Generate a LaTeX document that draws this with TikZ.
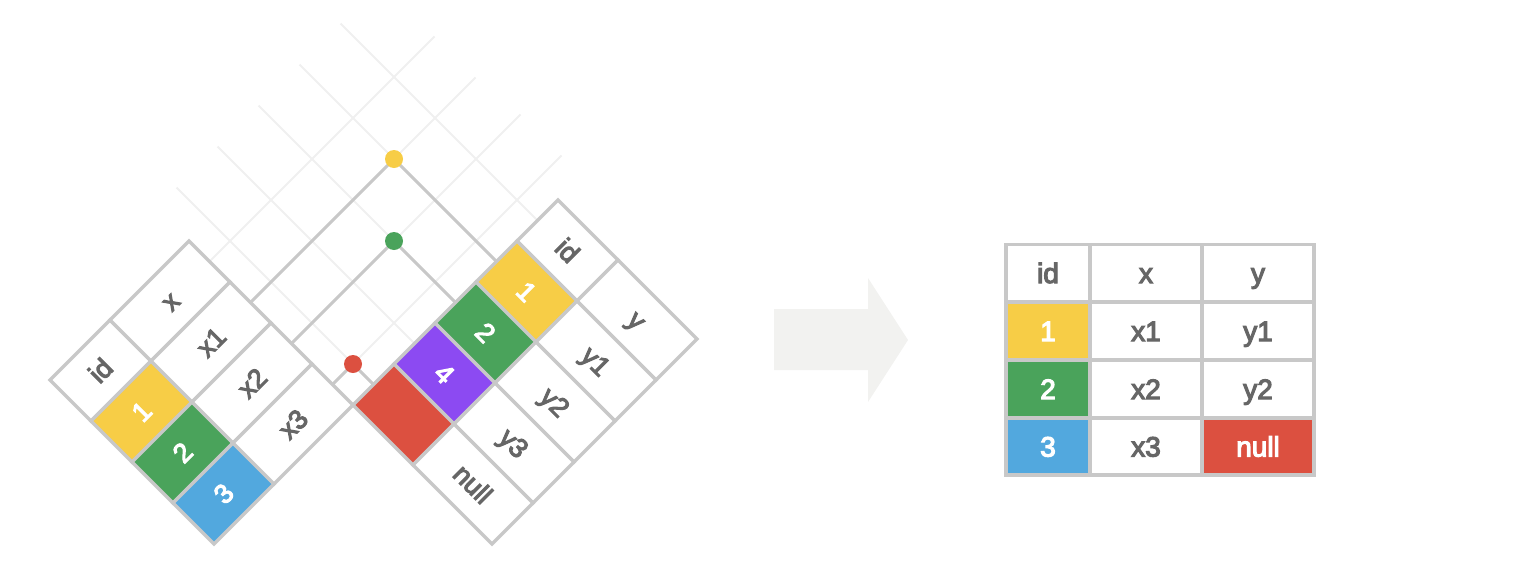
\documentclass[tikz,border=0pt]{standalone}
\usepackage{fontspec}
\setmainfont{Liberation Sans}
\newfontfamily\medfont{Liberation Sans}[FakeBold=4]
\definecolor{yel}{HTML}{F7CD46}
\definecolor{grn}{HTML}{4AA35B}
\definecolor{blu}{HTML}{52A8DE}
\definecolor{pur}{HTML}{8C4AF2}
\definecolor{nullred}{HTML}{DC5040}
\definecolor{bord}{HTML}{C8C8C8}
\definecolor{faint}{HTML}{F0F0F0}
\definecolor{txt}{HTML}{666666}
\definecolor{arrowfill}{HTML}{F2F2F0}
\newcommand\LP[2]{({50+41*(#1)+(#2)},{380+41*(#1)-(#2)})}
\newcommand\RP[2]{({558-41*(#1)+(#2)},{200+41*(#1)+(#2)})}
\tikzset{
  cellb/.style={draw=bord, line width=3.5pt, line join=miter},
  tfont/.style={font=\medfont\fontsize{27}{27}\selectfont, inner sep=0pt, text height=19pt, text depth=0pt},
  gfont/.style={font=\medfont\fontsize{28}{28}\selectfont, inner sep=0pt, text height=20pt, text depth=0pt},
  lt/.style={tfont, text=txt, rotate=45},
  ltw/.style={tfont, text=white, rotate=45},
  rt/.style={tfont, text=txt, rotate=-45},
  rtw/.style={tfont, text=white, rotate=-45},
  gt/.style={gfont, text=txt},
  gtw/.style={gfont, text=white},
  faintl/.style={draw=faint, line width=2pt},
  conn/.style={draw=bord, line width=3pt},
  dotn/.style={circle, minimum size=18pt, inner sep=0pt},
}
\begin{document}
\begin{tikzpicture}[x=1pt,y=-1pt]
\useasboundingbox (0,0) rectangle (1528,584);
% faint grid lines
\draw[faintl] \LP{0.5}{139} -- (434.5,36.5);
\draw[faintl] \LP{1.5}{139} -- (475.5,77.5);
\draw[faintl] \LP{2.5}{139} -- (520.5,114.5);
\draw[faintl] \LP{3.5}{139} -- (561.5,155.5);
\draw[faintl] \RP{0.5}{0} -- (340.5,23.5);
\draw[faintl] \RP{1.5}{0} -- (299.5,64.5);
\draw[faintl] \RP{2.5}{0} -- (258.5,105.5);
\draw[faintl] \RP{3.5}{0} -- (217.5,146.5);
\draw[faintl] \RP{4.5}{0} -- (176.5,187.5);
% connectors
\path \LP{1.5}{139} coordinate (ly);
\path \RP{1.5}{0} coordinate (ry);
\path \LP{2.5}{139} coordinate (lg);
\path \RP{2.5}{0} coordinate (rg);
\path \LP{3.5}{139} coordinate (lr);
\path \RP{4.5}{0} coordinate (rr);
\coordinate (dy) at (394,159);
\coordinate (dg) at (394,241);
\coordinate (dr) at (353,364);
\draw[conn] (ly) -- (dy) -- (ry);
\draw[conn] (lg) -- (dg) -- (rg);
\draw[conn] (lr) -- (dr) -- (rr);
\node[dotn, fill=yel] (dotY) at (dy) {};
\node[dotn, fill=grn] (dotG) at (dg) {};
\node[dotn, fill=nullred] (dotR) at (dr) {};
% left table
\filldraw[cellb, fill=white] \LP{0}{0} -- \LP{1}{0} -- \LP{1}{60} -- \LP{0}{60} -- cycle;
\filldraw[cellb, fill=white] \LP{0}{60} -- \LP{1}{60} -- \LP{1}{139} -- \LP{0}{139} -- cycle;
\filldraw[cellb, fill=yel] \LP{1}{0} -- \LP{2}{0} -- \LP{2}{60} -- \LP{1}{60} -- cycle;
\filldraw[cellb, fill=white] \LP{1}{60} -- \LP{2}{60} -- \LP{2}{139} -- \LP{1}{139} -- cycle;
\filldraw[cellb, fill=grn] \LP{2}{0} -- \LP{3}{0} -- \LP{3}{60} -- \LP{2}{60} -- cycle;
\filldraw[cellb, fill=white] \LP{2}{60} -- \LP{3}{60} -- \LP{3}{139} -- \LP{2}{139} -- cycle;
\filldraw[cellb, fill=blu] \LP{3}{0} -- \LP{4}{0} -- \LP{4}{60} -- \LP{3}{60} -- cycle;
\filldraw[cellb, fill=white] \LP{3}{60} -- \LP{4}{60} -- \LP{4}{139} -- \LP{3}{139} -- cycle;
\path \LP{0.5}{30} node[lt] (lid) {id};
\path \LP{0.5}{99.5} node[lt] (lx) {x};
\path \LP{1.5}{30} node[ltw] (l1) {1};
\path \LP{1.5}{99.5} node[lt] (lx1) {x1};
\path \LP{2.5}{30} node[ltw] (l2) {2};
\path \LP{2.5}{99.5} node[lt] (lx2) {x2};
\path \LP{3.5}{30} node[ltw] (l3) {3};
\path \LP{3.5}{99.5} node[lt] (lx3) {x3};
% right table
\filldraw[cellb, fill=white] \RP{0}{0} -- \RP{1}{0} -- \RP{1}{60} -- \RP{0}{60} -- cycle;
\filldraw[cellb, fill=white] \RP{0}{60} -- \RP{1}{60} -- \RP{1}{139} -- \RP{0}{139} -- cycle;
\filldraw[cellb, fill=yel] \RP{1}{0} -- \RP{2}{0} -- \RP{2}{60} -- \RP{1}{60} -- cycle;
\filldraw[cellb, fill=white] \RP{1}{60} -- \RP{2}{60} -- \RP{2}{139} -- \RP{1}{139} -- cycle;
\filldraw[cellb, fill=grn] \RP{2}{0} -- \RP{3}{0} -- \RP{3}{60} -- \RP{2}{60} -- cycle;
\filldraw[cellb, fill=white] \RP{2}{60} -- \RP{3}{60} -- \RP{3}{139} -- \RP{2}{139} -- cycle;
\filldraw[cellb, fill=pur] \RP{3}{0} -- \RP{4}{0} -- \RP{4}{60} -- \RP{3}{60} -- cycle;
\filldraw[cellb, fill=white] \RP{3}{60} -- \RP{4}{60} -- \RP{4}{139} -- \RP{3}{139} -- cycle;
\filldraw[cellb, fill=nullred] \RP{4}{0} -- \RP{5}{0} -- \RP{5}{60} -- \RP{4}{60} -- cycle;
\filldraw[cellb, fill=white] \RP{4}{60} -- \RP{5}{60} -- \RP{5}{139} -- \RP{4}{139} -- cycle;
\path \RP{0.5}{30} node[rt] (rid) {id};
\path \RP{0.5}{99.5} node[rt] (ry0) {y};
\path \RP{1.5}{30} node[rtw] (r1) {1};
\path \RP{1.5}{99.5} node[rt] (ry1) {y1};
\path \RP{2.5}{30} node[rtw] (r2) {2};
\path \RP{2.5}{99.5} node[rt] (ry2) {y2};
\path \RP{3.5}{30} node[rtw] (r4) {4};
\path \RP{3.5}{99.5} node[rt] (ry3) {y3};
\path \RP{4.5}{99.5} node[rt] (rnull) {null};
% arrow
\fill[arrowfill] (774,309) -- (868,309) -- (868,278) -- (908,340) -- (868,402) -- (868,370) -- (774,370) -- cycle;
% result table
\filldraw[cellb, fill=white] (1006,244.5) rectangle (1090,302);
\filldraw[cellb, fill=white] (1090,244.5) rectangle (1202,302);
\filldraw[cellb, fill=white] (1202,244.5) rectangle (1314,302);
\filldraw[cellb, fill=yel] (1006,302) rectangle (1090,360);
\filldraw[cellb, fill=white] (1090,302) rectangle (1202,360);
\filldraw[cellb, fill=white] (1202,302) rectangle (1314,360);
\filldraw[cellb, fill=grn] (1006,360) rectangle (1090,418);
\filldraw[cellb, fill=white] (1090,360) rectangle (1202,418);
\filldraw[cellb, fill=white] (1202,360) rectangle (1314,418);
\filldraw[cellb, fill=blu] (1006,418) rectangle (1090,475);
\filldraw[cellb, fill=white] (1090,418) rectangle (1202,475);
\filldraw[cellb, fill=nullred] (1202,418) rectangle (1314,475);
\node[gt] (gid) at (1048,273) {id};
\node[gt] (gx) at (1146,273) {x};
\node[gt] (gy) at (1258,273) {y};
\node[gtw] (g1) at (1048,331) {1};
\node[gt] (gx1) at (1146,331) {x1};
\node[gt] (gy1) at (1258,331) {y1};
\node[gtw] (g2) at (1048,389) {2};
\node[gt] (gx2) at (1146,389) {x2};
\node[gt] (gy2) at (1258,389) {y2};
\node[gtw] (g3) at (1048,446.5) {3};
\node[gt] (gx3) at (1146,446.5) {x3};
\node[gtw] (gnull) at (1258,446.5) {null};
\end{tikzpicture}
\end{document}
